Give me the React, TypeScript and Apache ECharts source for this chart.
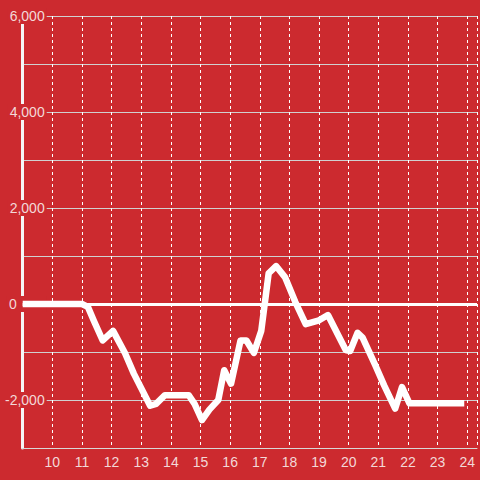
import React, { useEffect, useRef } from "react";
import * as echarts from "echarts";

const hours = [9, 11, 11.2, 11.4, 11.7, 12.05, 12.45, 12.75, 13.3, 13.5, 13.8, 14.6, 14.8, 15.05, 15.3, 15.6, 15.8, 16.03, 16.35, 16.55, 16.8, 17.05, 17.3, 17.55, 17.85, 18.2, 18.55, 19.0, 19.3, 19.9, 20.05, 20.3, 20.47, 20.9, 21.2, 21.57, 21.8, 22.05, 23.9];
const values = [0, 0, -60, -350, -760, -560, -1020, -1450, -2120, -2080, -1900, -1900, -2080, -2420, -2200, -2000, -1380, -1660, -760, -760, -1020, -560, 640, 790, 560, 40, -420, -340, -230, -960, -980, -600, -700, -1280, -1700, -2180, -1730, -2070, -2070];
const xTicks = [10, 11, 12, 13, 14, 15, 16, 17, 18, 19, 20, 21, 22, 23, 24];
const yLabelValues = [-2000, 0, 2000, 4000, 6000];

const BG = "#cc2a2f";
const TXT = "#f3d8d8";

export default function App() {
  const ref = useRef<HTMLDivElement>(null);
  useEffect(() => {
    if (!ref.current) return;
    const chart = echarts.init(ref.current, undefined, { renderer: "svg" });
    const data = hours.map((h, i) => [h, values[i]]);
    chart.setOption({
      animation: false,
      backgroundColor: BG,
      grid: { left: 20, right: 0, top: 16, bottom: 32, containLabel: false },
      xAxis: {
        type: "value",
        min: 9,
        max: 24.33,
        interval: 1,
        axisLine: { show: true, onZero: false, lineStyle: { color: "#d8d8d8", width: 1 } },
        axisTick: { show: false },
        splitLine: { show: true, lineStyle: { color: "#ffffff", width: 1, type: [3, 3] } },
        axisLabel: {
          color: TXT,
          fontSize: 14,
          fontFamily: "Liberation Sans, Arial, sans-serif",
          margin: 7,
          formatter: (v: number) => (xTicks.indexOf(v) >= 0 ? String(v) : ""),
        },
      },
      yAxis: {
        type: "value",
        min: -3000,
        max: 6000,
        interval: 1000,
        axisLine: { show: true, lineStyle: { color: "#f5f5f5", width: 3 } },
        axisTick: { show: false },
        splitLine: { show: true, lineStyle: { color: "#d0d0d0", width: 1 } },
        axisLabel: {
          margin: -24,
          formatter: (v: number) => {
            if (yLabelValues.indexOf(v) < 0) return "";
            if (v === 0) return "{z|0}";
            return "{a|" + v.toLocaleString("en-US") + "}";
          },
          rich: {
            a: {
              color: TXT,
              fontSize: 14,
              fontFamily: "Liberation Sans, Arial, sans-serif",
              backgroundColor: BG,
              padding: [1, 2, 1, 2],
            },
            z: {
              color: TXT,
              fontSize: 14,
              fontFamily: "Liberation Sans, Arial, sans-serif",
              backgroundColor: BG,
              padding: [1, 30, 1, 2],
            },
          },
        },
      },
      series: [
        {
          type: "line",
          data,
          showSymbol: false,
          symbol: "none",
          lineStyle: { color: "#ffffff", width: 6.5, join: "round", cap: "butt" },
          z: 3,
          markLine: {
            silent: true,
            symbol: "none",
            label: { show: false },
            lineStyle: { color: "#ffffff", width: 3, type: "solid" },
            data: [{ yAxis: 0 }],
          },
        },
      ],
    });
    return () => chart.dispose();
  }, []);
  return <div ref={ref} style={{ width: 480, height: 480, position: "absolute", left: 0, top: 0 }} />;
}
